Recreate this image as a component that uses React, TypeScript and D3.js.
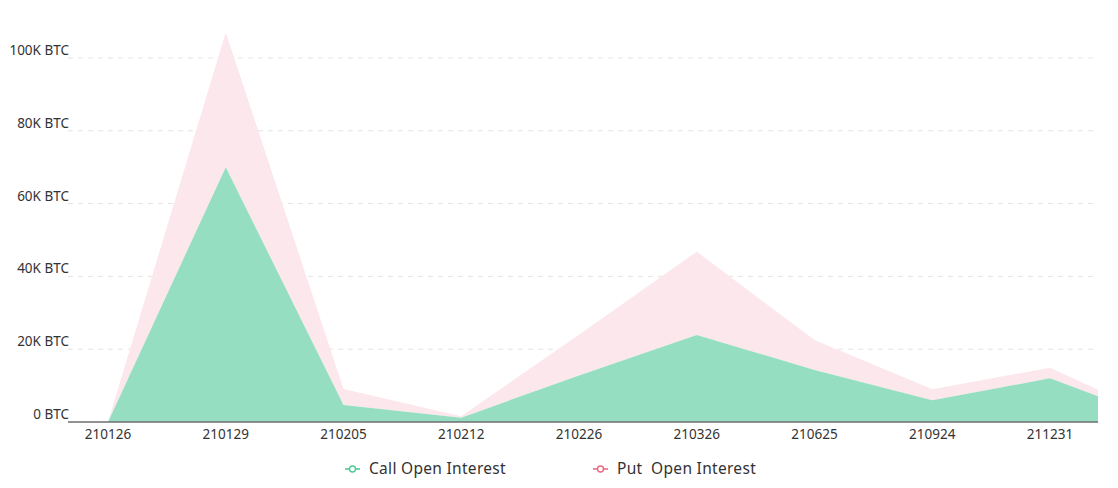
import React from "react";
import * as d3 from "d3";

const categories = ["210126", "210129", "210205", "210212", "210226", "210326", "210625", "210924", "211231", "220325"];
const callOI = [0, 70000, 4700, 1200, 12800, 23900, 14300, 6000, 12000, 0];
const putOI = [0, 37000, 4400, 400, 11200, 22900, 8200, 3000, 2900, 0];
const yTicks = [0, 20000, 40000, 60000, 80000, 100000];
const legendItems = ["Call Open Interest", "Put  Open Interest"];

const W = 1118;
const H = 488;
const left = 68;
const right = 1098;
const y0 = 422;
const yTop = 58;

const GREEN_FILL = "#96dec2";
const PINK_FILL = "#fbe7ec";
const GREEN = "#4ccb95";
const PINK = "#ea6a84";
const FONT = "'Noto Sans', 'Open Sans', sans-serif";

export default function App() {
  const x = d3.scalePoint<string>().domain(categories).range([108, 108 + 117.75 * (categories.length - 1)]);
  const y = d3.scaleLinear().domain([0, 100000]).range([y0, yTop]);

  const stacked = categories.map((c, i) => ({ c, call: callOI[i], total: callOI[i] + putOI[i] }));

  const callArea = d3
    .area<any>()
    .x((d) => x(d.c) as number)
    .y0(() => y(0))
    .y1((d) => y(d.call));
  const putArea = d3
    .area<any>()
    .x((d) => x(d.c) as number)
    .y0((d) => y(d.call))
    .y1((d) => y(d.total));

  const fmt = (v: number) => `${v / 1000 === 0 ? 0 : v / 1000 + "K"} BTC`;

  return (
    <svg
      width={W}
      height={H}
      style={{ position: "absolute", left: 0, top: 0, background: "#fff" }}
      fontFamily={FONT}
    >
      <defs>
        <clipPath id="plotClip">
          <rect x={left} y={0} width={right - left} height={y0 + 1} />
        </clipPath>
      </defs>
      {yTicks.slice(1).map((t) => (
        <line
          key={t}
          x1={left}
          x2={right}
          y1={y(t)}
          y2={y(t)}
          stroke="#e3e3e3"
          strokeDasharray="5,5"
          strokeWidth={1}
        />
      ))}
      <g clipPath="url(#plotClip)">
        <path d={putArea(stacked) || ""} fill={PINK_FILL} />
        <path d={callArea(stacked) || ""} fill={GREEN_FILL} />
      </g>
      <line x1={left} x2={right} y1={y0} y2={y0} stroke="#6e6e6e" strokeWidth={1.6} />
      {yTicks.map((t) => (
        <text key={t} x={69} y={y(t) - 3} textAnchor="end" fontSize={13.5} fill="#333">
          {fmt(t)}
        </text>
      ))}
      {categories.map((c) =>
        (x(c) as number) < right ? (
          <text key={c} x={x(c) as number} y={439} textAnchor="middle" fontSize={13.5} fill="#333">
            {c}
          </text>
        ) : null
      )}
      {legendItems.map((label, i) => {
        const lx = i === 0 ? 345 : 593;
        const col = i === 0 ? GREEN : PINK;
        return (
          <g key={label}>
            <line x1={lx} x2={lx + 15} y1={469} y2={469} stroke={col} strokeWidth={1.6} />
            <circle cx={lx + 7.5} cy={469} r={3} fill="#fff" stroke={col} strokeWidth={1.4} />
            <text
              x={lx + 24}
              y={474}
              fontSize={15.5}
              letterSpacing={0.3}
              fill="#333"
              style={{ whiteSpace: "pre" }}
            >
              {label}
            </text>
          </g>
        );
      })}
    </svg>
  );
}
